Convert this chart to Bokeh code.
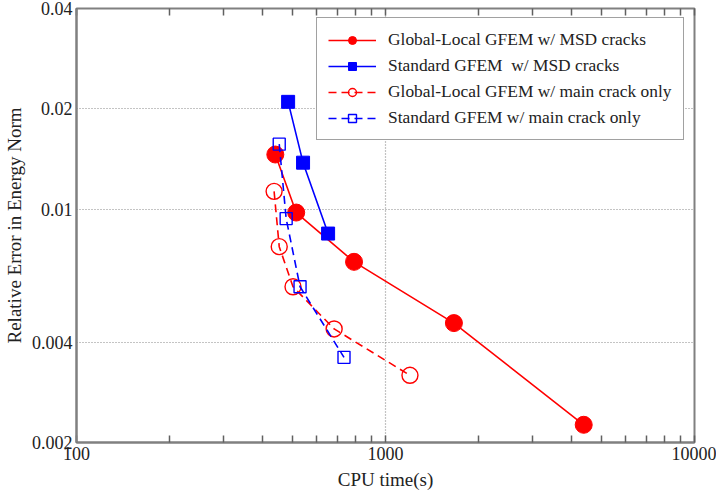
from bokeh.plotting import figure
from bokeh.models import FixedTicker, Legend, LegendItem, LogAxis, CustomJSTickFormatter
from bokeh.embed import file_html
from bokeh.resources import INLINE

# data
gl_msd_x = [440, 514, 791, 1665, 4380]
gl_msd_y = [0.0146, 0.00978, 0.00696, 0.00456, 0.00226]
std_msd_x = [484, 541, 652]
std_msd_y = [0.0210, 0.0138, 0.00846]
gl_main_x = [436, 453, 502, 682, 1200]
gl_main_y = [0.01132, 0.00773, 0.00586, 0.00438, 0.00318]
std_main_x = [453, 477, 529, 734]
std_main_y = [0.01568, 0.00938, 0.00586, 0.0036]

x_ticks = [100, 1000, 10000]
x_minor = [200, 300, 400, 500, 600, 700, 800, 900, 2000, 3000, 4000, 5000, 6000, 7000, 8000, 9000]
y_ticks = [0.002, 0.004, 0.01, 0.02, 0.04]
y_tick_labels = ["0.002", "0.004", "0.01", "0.02", "0.04"]

FONT = "Liberation Serif"
GRAY = "#808080"
TICK = "#606060"
TXT = "#222222"

p = figure(width=716, height=492, x_axis_type="log", y_axis_type="log",
           x_range=(100, 10000), y_range=(0.002, 0.04),
           output_backend="svg", toolbar_location=None,
           min_border_left=10, min_border_right=22, min_border_top=8, min_border_bottom=50)
p.background_fill_color = "white"
p.border_fill_color = "white"
p.outline_line_color = GRAY
p.outline_line_width = 2

# axes
p.xaxis.ticker = FixedTicker(ticks=x_ticks, minor_ticks=x_minor)
p.yaxis.ticker = FixedTicker(ticks=y_ticks, minor_ticks=[])
p.xaxis.formatter = CustomJSTickFormatter(code="return Math.round(tick).toString();")
p.yaxis.formatter = CustomJSTickFormatter(
    args=dict(vals=y_ticks, labs=y_tick_labels),
    code="""
let best = 0; let d = 1e9;
for (let i = 0; i < vals.length; i++) {
  const e = Math.abs(Math.log(tick) - Math.log(vals[i]));
  if (e < d) { d = e; best = i; }
}
return labs[best];""")
for ax in (p.xaxis, p.yaxis):
    ax.axis_line_color = GRAY
    ax.axis_line_width = 2
    ax.major_tick_in = 0
    ax.major_tick_out = 0
    ax.minor_tick_in = 0
    ax.minor_tick_out = 0
    ax.major_tick_line_color = TICK
    ax.minor_tick_line_color = TICK
    ax.major_label_text_font = FONT
    ax.major_label_text_font_size = "18px"
    ax.major_label_text_color = TXT
    ax.axis_label_text_font = FONT
    ax.axis_label_text_font_size = "19px"
    ax.axis_label_text_font_style = "normal"
    ax.axis_label_text_color = TXT
p.xaxis.major_tick_in = 7
p.xaxis.minor_tick_in = 7
p.xaxis.major_tick_line_width = 1.5
p.xaxis.minor_tick_line_width = 1.5
p.xaxis.major_label_standoff = 4
p.xaxis.axis_label = "CPU time(s)"
p.xaxis.axis_label_standoff = 6
p.yaxis.axis_label = "Relative Error in Energy Norm"
p.yaxis.major_label_standoff = 4
p.yaxis.axis_label_standoff = 4

top = LogAxis(ticker=FixedTicker(ticks=x_ticks, minor_ticks=x_minor))
top.major_label_text_color = None
top.major_label_text_font_size = "1px"
top.axis_line_color = None
top.major_tick_in = 7
top.major_tick_out = 0
top.minor_tick_in = 7
top.minor_tick_out = 0
top.major_tick_line_color = TICK
top.minor_tick_line_color = TICK
top.major_tick_line_width = 1.5
top.minor_tick_line_width = 1.5
top.major_label_standoff = 0
p.add_layout(top, "above")

# grids
p.xgrid.ticker = FixedTicker(ticks=[1000])
p.ygrid.ticker = FixedTicker(ticks=[0.004, 0.01, 0.02])
for g in (p.xgrid, p.ygrid):
    g.grid_line_color = "#888888"
    g.grid_line_dash = "1 2"
    g.grid_line_width = 1.2

RED = "#ff0000"
BLUE = "#0000ff"

l1 = p.line(gl_msd_x, gl_msd_y, line_color=RED, line_width=1.6)
s1 = p.scatter(gl_msd_x, gl_msd_y, marker="circle", size=17, fill_color=RED, line_color=RED)
l2 = p.line(std_msd_x, std_msd_y, line_color=BLUE, line_width=1.6)
s2 = p.scatter(std_msd_x, std_msd_y, marker="square", size=13, fill_color=BLUE, line_color=BLUE)
l3 = p.line(gl_main_x, gl_main_y, line_color=RED, line_width=1.6, line_dash="8 5")
s3 = p.scatter(gl_main_x, gl_main_y, marker="circle", size=16, fill_alpha=0, line_color=RED, line_width=1.4)
l4 = p.line(std_main_x, std_main_y, line_color=BLUE, line_width=1.6, line_dash="8 5")
s4 = p.scatter(std_main_x, std_main_y, marker="square", size=12, fill_alpha=0, line_color=BLUE, line_width=1.4)

legend = Legend(items=[
    LegendItem(label="Global-Local GFEM w/ MSD cracks", renderers=[l1, s1]),
    LegendItem(label="Standard GFEM  w/ MSD cracks", renderers=[l2, s2]),
    LegendItem(label="Global-Local GFEM w/ main crack only", renderers=[l3, s3]),
    LegendItem(label="Standard GFEM w/ main crack only", renderers=[l4, s4]),
], location=(240, 302))
legend.label_text_font = FONT
legend.label_text_font_size = "17.4px"
legend.label_text_color = TXT
legend.glyph_width = 48
legend.glyph_height = 20
legend.label_height = 20
legend.spacing = 5
legend.padding = 11
legend.margin = 0
legend.label_standoff = 12
legend.border_line_color = "#444444"
legend.border_line_width = 1.5
legend.background_fill_alpha = 1
p.add_layout(legend, "center")

open("out.html", "w").write(file_html(p, INLINE))
